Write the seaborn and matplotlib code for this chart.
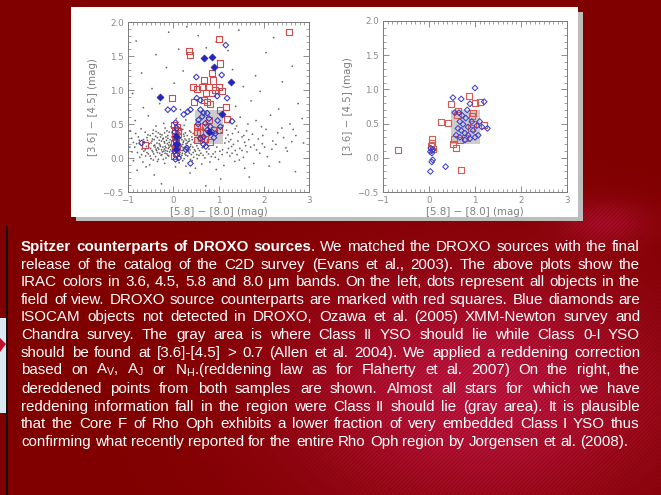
import numpy as np
import matplotlib
matplotlib.use("Agg")
import matplotlib.pyplot as plt
import seaborn as sns
import pandas as pd
from matplotlib.patches import Rectangle, Polygon
from matplotlib.ticker import MultipleLocator

sns.set_theme(style="white")
plt.rcParams['font.family'] = ['Liberation Sans', 'DejaVu Sans']
plt.rcParams['mathtext.fontset'] = 'custom'
plt.rcParams['mathtext.rm'] = 'Liberation Sans'
plt.rcParams['mathtext.it'] = 'Liberation Sans:italic'
plt.rcParams['mathtext.bf'] = 'Liberation Sans:bold'

# ---------------- data ----------------
x_ticks = [-1, 0, 1, 2, 3]
x_tick_labels = ['\u22121', '0', '1', '2', '3']
y_ticks = [-0.5, 0.0, 0.5, 1.0, 1.5, 2.0]
y_tick_labels = ['\u22120.5', '0.0', '0.5', '1.0', '1.5', '2.0']
x_label = '[5.8] \u2212 [8.0] (mag)'
y_label = '[3.6] \u2212 [4.5] (mag)'
class2_x = (0.48, 1.10)
class2_y = (0.20, 0.70)

field_dots = [
    (-0.71, 0.43), (-0.44, 0.41), (-0.18, 0.44), (0.21, 0.42), (0.36, 0.40), (0.66, 0.44), (1.18, 0.41),
    (1.37, 0.43), (1.62, 0.40), (2.05, 0.42), (-0.95, 0.40), (0.92, 0.45),
    (-0.83, 0.36), (-0.62, 0.38), (-0.51, 0.33), (-0.33, 0.37), (-0.25, 0.34), (-0.09, 0.38), (0.17, 0.35),
    (0.27, 0.37), (0.31, 0.33), (0.44, 0.36), (1.21, 0.34), (1.44, 0.38), (1.75, 0.35), (2.31, 0.37),
    (-0.12, 0.33), (0.09, 0.39),
    (-0.92, 0.29), (-0.77, 0.31), (-0.66, 0.27), (-0.58, 0.30), (-0.46, 0.28), (-0.39, 0.32), (-0.31, 0.26),
    (-0.22, 0.29), (-0.16, 0.31), (-0.07, 0.27), (0.12, 0.30), (0.19, 0.27), (0.24, 0.32), (0.35, 0.28),
    (0.41, 0.31), (1.16, 0.29), (1.27, 0.27), (1.52, 0.31), (1.88, 0.28), (2.44, 0.30), (-0.28, 0.31), (0.29, 0.26),
    (-0.88, 0.23), (-0.73, 0.20), (-0.64, 0.24), (-0.53, 0.21), (-0.47, 0.25), (-0.36, 0.22), (-0.29, 0.19),
    (-0.20, 0.24), (-0.13, 0.21), (-0.04, 0.25), (0.13, 0.22), (0.17, 0.19), (0.23, 0.25), (0.28, 0.21),
    (0.33, 0.24), (0.39, 0.20), (0.46, 0.23), (1.14, 0.22), (1.23, 0.24), (1.33, 0.20), (1.58, 0.23),
    (1.97, 0.21), (2.62, 0.24), (-0.41, 0.19), (-0.10, 0.19), (0.21, 0.20),
    (-0.85, 0.16), (-0.69, 0.13), (-0.59, 0.17), (-0.50, 0.14), (-0.43, 0.18), (-0.34, 0.15), (-0.26, 0.12),
    (-0.18, 0.17), (-0.11, 0.14), (-0.06, 0.18), (0.14, 0.13), (0.19, 0.17), (0.25, 0.14), (0.31, 0.18),
    (0.37, 0.12), (0.43, 0.16), (0.55, 0.14), (0.68, 0.17), (0.79, 0.13), (0.96, 0.16), (1.09, 0.12),
    (1.29, 0.17), (1.47, 0.14), (1.71, 0.16), (2.18, 0.13), (-0.23, 0.16), (0.27, 0.16), (-0.38, 0.13),
    (-0.79, 0.08), (-0.65, 0.10), (-0.55, 0.06), (-0.45, 0.09), (-0.37, 0.11), (-0.30, 0.07), (-0.21, 0.10),
    (-0.14, 0.06), (-0.08, 0.09), (0.15, 0.08), (0.21, 0.11), (0.26, 0.06), (0.34, 0.09), (0.40, 0.05),
    (0.49, 0.10), (0.61, 0.07), (0.74, 0.09), (0.88, 0.06), (1.03, 0.10), (1.19, 0.08), (1.41, 0.05),
    (1.63, 0.09), (1.91, 0.07), (2.52, 0.10), (-0.17, 0.11), (0.30, 0.10),
    (-0.74, 0.01), (-0.61, 0.03), (-0.49, -0.01), (-0.39, 0.02), (-0.27, 0.04), (-0.16, 0.00), (-0.10, 0.03),
    (0.16, 0.02), (0.24, -0.01), (0.32, 0.03), (0.45, 0.01), (0.57, 0.04), (0.70, 0.00), (0.84, 0.02),
    (1.00, -0.02), (1.25, 0.03), (1.55, 0.01), (2.08, 0.02), (-0.33, -0.02), (0.19, 0.04),
    (-0.67, -0.06), (-0.52, -0.10), (-0.35, -0.05), (-0.19, -0.08), (0.13, -0.07), (0.28, -0.12), (0.42, -0.04),
    (0.63, -0.09), (0.81, -0.06), (1.12, -0.11), (1.36, -0.05), (1.78, -0.08), (2.35, -0.06), (-0.88, -0.04),
    (0.05, -0.13),
    (-0.42, -0.25), (0.37, -0.22), (1.05, -0.31), (-0.26, -0.38), (1.68, -0.28), (2.70, -0.20), (0.72, -0.41),
    (-0.80, -0.18),
    (-0.84, 0.55), (-0.55, 0.62), (-0.21, 0.51), (0.07, 0.58), (0.28, 0.56), (1.25, 0.52), (1.48, 0.60),
    (1.83, 0.55), (2.15, 0.63), (2.58, 0.50), (2.85, 0.58), (-0.66, 0.74), (-0.30, 0.80), (0.16, 0.71),
    (1.38, 0.76), (1.72, 0.84), (2.33, 0.72), (2.76, 0.80), (-0.90, 0.95), (-0.47, 1.02), (0.02, 1.10),
    (1.55, 1.05), (1.92, 0.98), (2.41, 1.12), (-0.70, 1.25), (-0.15, 1.33), (0.22, 1.28), (1.31, 1.30),
    (1.82, 1.21), (2.63, 1.35), (-0.38, 1.52), (0.12, 1.60), (0.73, 1.62), (1.21, 1.58), (2.05, 1.55),
    (-0.82, 1.72), (0.55, 1.80), (1.45, 1.88), (2.22, 1.77), (0.30, 1.93), (0.95, 1.71), (-0.10, 1.85),
    (-0.57, 0.26), (-0.49, 0.22), (-0.42, 0.27), (-0.35, 0.30), (-0.31, 0.21), (-0.26, 0.25), (-0.23, 0.28),
    (-0.19, 0.22), (-0.15, 0.26), (-0.12, 0.29), (-0.09, 0.23), (-0.05, 0.20), (-0.03, 0.31), (0.12, 0.25),
    (0.16, 0.29), (0.22, 0.23), (0.26, 0.28), (0.31, 0.22), (0.36, 0.25), (0.42, 0.27),
    (-0.62, 0.12), (-0.54, 0.15), (-0.47, 0.11), (-0.40, 0.16), (-0.32, 0.13), (-0.28, 0.17), (-0.24, 0.09),
    (-0.20, 0.13), (-0.16, 0.15), (-0.13, 0.10), (-0.09, 0.16), (-0.06, 0.12), (-0.02, 0.15), (0.13, 0.16),
    (0.17, 0.11), (0.22, 0.15), (0.29, 0.12), (0.33, 0.15), (0.38, 0.17), (0.47, 0.12), (0.52, 0.18),
    (0.58, 0.11), (0.64, 0.15),
    (-0.70, 0.05), (-0.58, 0.08), (-0.51, 0.03), (-0.43, 0.06), (-0.35, 0.08), (-0.25, 0.05), (-0.18, 0.07),
    (-0.12, 0.04), (0.14, 0.05), (0.20, 0.07), (0.28, 0.04), (0.36, 0.07), (0.44, 0.08), (0.52, 0.05),
    (0.66, 0.04), (0.78, 0.06), (0.93, 0.09), (1.08, 0.05), (1.30, 0.07), (1.52, 0.11), (1.84, 0.12),
    (-0.56, 0.34), (-0.45, 0.36), (-0.38, 0.39), (-0.29, 0.35), (-0.19, 0.37), (-0.14, 0.40), (-0.02, 0.36),
    (0.14, 0.37), (0.23, 0.35), (0.39, 0.38), (0.48, 0.41), (1.06, 0.37), (1.31, 0.36), (1.56, 0.33),
    (1.98, 0.33), (2.20, 0.25),
    (-0.81, 0.21), (-0.75, 0.26), (-0.96, 0.16), (-0.91, 0.09), (1.43, 0.25), (1.67, 0.27), (1.79, 0.19),
    (2.02, 0.16), (2.27, 0.20), (2.49, 0.15), (2.71, 0.33), (2.88, 0.22), (1.22, 0.14), (1.37, 0.11),
    (1.60, 0.18),
    (-0.44, -0.03), (-0.22, -0.02), (0.21, -0.04), (0.38, -0.02), (0.53, -0.01), (0.93, 0.01), (1.46, -0.03),
    (-0.60, -0.13), (0.49, -0.15), (0.95, -0.17), (1.58, -0.15), (2.12, -0.12),
    (1.10, 0.48), (1.40, 0.47), (1.65, 0.50), (1.95, 0.46), (2.40, 0.44), (2.65, 0.42), (-0.38, 0.47),
    (-0.05, 0.46), (0.24, 0.48),
]

red_left = [
    (2.55, 1.85), (1.01, 1.75), (0.34, 1.58), (0.37, 1.52), (1.04, 1.39), (0.86, 1.25), (0.87, 1.14),
    (0.69, 1.15), (0.64, 1.05), (0.79, 1.05), (1.01, 1.05), (0.43, 1.05), (0.52, 1.02), (0.92, 1.00),
    (1.08, 0.98), (0.72, 0.96), (0.86, 0.95), (0.45, 0.83), (-0.03, 0.88), (0.68, 0.85), (0.82, 0.80),
    (0.75, 0.82), (1.16, 0.75), (1.04, 0.70), (1.18, 0.58), (0.52, 0.46), (0.71, 0.46), (0.52, 0.39),
    (0.60, 0.38), (0.90, 0.41), (1.01, 0.41), (0.79, 0.56), (0.52, 0.26), (0.71, 0.28), (0.82, 0.24),
    (0.62, 0.30), (0.02, 0.48), (0.08, 0.45), (0.04, 0.41), (0.10, 0.36), (0.03, 0.32), (0.07, 0.27),
    (0.02, 0.22), (0.09, 0.17), (0.04, 0.12), (0.07, 0.07), (0.02, 0.03), (0.11, 0.40), (0.05, 0.15),
    (-0.62, 0.19),
]

blue_left = [
    (1.16, 1.66), (1.07, 1.22), (0.51, 1.19), (0.01, 0.72), (0.23, 0.64), (0.38, 0.71), (0.52, 0.88),
    (0.60, 0.85), (1.19, 0.88), (0.97, 0.91), (1.30, 0.54), (0.32, 0.68), (0.60, 0.71), (0.67, 0.66),
    (0.75, 0.66), (0.64, 0.61), (0.56, 0.56), (0.79, 0.58), (0.71, 0.51), (0.82, 0.46), (0.93, 0.36),
    (0.75, 0.41), (0.67, 0.31), (0.90, 0.30), (1.04, 0.46), (0.60, 0.29), (0.86, 0.38), (0.55, 0.50),
    (0.98, 0.55), (0.05, 0.52), (0.08, 0.44), (0.03, 0.38), (0.09, 0.30), (0.05, 0.25), (0.10, 0.20),
    (0.03, 0.10), (0.08, 0.05), (0.05, -0.02), (0.12, 0.00), (0.38, -0.08), (0.67, 0.20), (0.30, 0.15),
    (-0.70, 0.22), (0.28, 0.12), (0.72, 0.17), (-0.12, 0.71),
]

blue_left_filled = [
    (0.67, 1.47), (0.86, 1.49), (0.91, 1.34), (1.28, 1.12), (-0.30, 0.89), (1.07, 0.64), (0.06, 0.33),
    (0.07, 0.21), (0.05, 0.13), (0.80, 0.38),
]

red_right = [
    (0.87, 0.90), (1.00, 0.80), (1.10, 0.81), (0.48, 0.78), (0.63, 0.68), (0.96, 0.66), (0.26, 0.52),
    (0.41, 0.51), (0.93, 0.61), (0.96, 0.50), (0.91, 0.43), (1.19, 0.48), (0.55, 0.28), (0.67, 0.26),
    (0.52, 0.20), (0.59, 0.15), (0.07, 0.28), (0.07, 0.22), (0.05, 0.17), (0.09, 0.13), (-0.67, 0.12),
    (0.70, -0.18), (0.62, 0.63), (0.78, 0.29),
]

blue_right = [
    (1.00, 1.02), (0.52, 0.88), (0.70, 0.86), (0.89, 0.79), (1.20, 0.82), (0.56, 0.66), (0.65, 0.66),
    (0.67, 0.53), (0.74, 0.49), (0.80, 0.58), (0.85, 0.45), (0.93, 0.53), (0.63, 0.43), (0.70, 0.40),
    (0.78, 0.36), (0.85, 0.33), (0.96, 0.40), (1.04, 0.47), (1.10, 0.53), (1.15, 0.45), (1.27, 0.43),
    (0.59, 0.33), (0.67, 0.30), (0.78, 0.26), (0.89, 0.28), (1.00, 0.30), (1.07, 0.33), (0.04, 0.14),
    (0.07, 0.11), (0.03, 0.09), (0.06, 0.07), (0.09, 0.12), (0.08, -0.03), (0.06, -0.06), (0.03, -0.20),
    (0.36, -0.13), (0.72, 0.62), (0.83, 0.70),
]

caption_lines = [
    "*Spitzer *counterparts *of *DROXO *sources|. We matched the DROXO sources with the final",
    "release of the catalog of the C2D survey (Evans et al., 2003). The above plots show the",
    "IRAC colors in 3.6, 4.5, 5.8 and 8.0 \u03bcm bands. On the left, dots represent all objects in the",
    "field of view. DROXO source counterparts are marked with red squares. Blue diamonds are",
    "ISOCAM objects not detected  in DROXO, Ozawa et al. (2005) XMM-Newton survey and",
    "Chandra survey. The gray area is where Class II YSO should lie while Class 0-I YSO",
    "should be found at [3.6]-[4.5] > 0.7 (Allen et al. 2004). We applied a reddening correction",
    r"based on A$_\mathrm{V}$, A$_\mathrm{J}$ or N$_\mathrm{H}$.(reddening law as for Flaherty et al. 2007) On the right, the",
    "dereddened points from both samples are shown. Almost all stars for which we have",
    "reddening information fall in the region were Class II should lie (gray area).  It is plausible",
    "that the Core F of Rho Oph exhibits a lower fraction of very embedded Class I YSO thus",
    "confirming what recently reported for the entire Rho Oph region by Jorgensen et al. (2008).",
]

# ---------------- figure ----------------
W, H = 661, 495
fig = plt.figure(figsize=(W / 100, H / 100), dpi=100)

# background (decoration)
yy, xx = np.mgrid[0:H, 0:W].astype(float)
base = np.array([128, 0, 0], float)
light = np.array([196, 24, 74], float)
blob = np.exp(-((xx - 480) / 185) ** 2 - ((yy - 390) / 120) ** 2)
blob2 = 0.5 * np.exp(-((xx - 605) / 45) ** 2 - ((yy - 222) / 22) ** 2)
stripes = 0.5 + 0.5 * np.sin(2 * np.pi * (xx + yy) / 4.0)
mix = np.clip(blob + blob2, 0, 1) * (0.6 + 0.4 * stripes)
bg = base[None, None, :] + (light - base)[None, None, :] * mix[:, :, None]
bg = np.clip(bg / 255.0, 0, 1)

axbg = fig.add_axes([0, 0, 1, 1])
axbg.imshow(bg, extent=(0, W, H, 0), aspect='auto', interpolation='nearest', zorder=0)
axbg.set_xlim(0, W)
axbg.set_ylim(H, 0)
axbg.axis('off')

# slide frame decorations
axbg.add_patch(Rectangle((0, 318), 6, 95, facecolor='#dbe8f4', edgecolor='none', zorder=1))
axbg.add_patch(Polygon([(0, 338), (6, 344), (0, 352)], closed=True, facecolor='#c0102a', edgecolor='none', zorder=2))
axbg.add_patch(Rectangle((6, 226), 1.6, H - 226, facecolor='#111111', edgecolor='none', zorder=2))
# white panel with shadow
axbg.add_patch(Rectangle((76, 12), 507, 209, facecolor='#bdbdbd', edgecolor='none', zorder=3))
axbg.add_patch(Rectangle((71, 7), 507, 210, facecolor='white', edgecolor='none', zorder=4))

# caption text (justified)
renderer = fig.canvas.get_renderer()


def make_piece(txt, bold, fs):
    t = axbg.text(0, 0, txt, fontsize=fs, color='white', fontweight='bold' if bold else 'normal',
                  family=['Liberation Sans', 'DejaVu Sans'], va='baseline', ha='left', zorder=10)
    return t


def parse_word(word):
    pieces = []
    for p in word.split('|'):
        if p.startswith('*'):
            pieces.append((p[1:], True))
        else:
            pieces.append((p, False))
    return pieces


def width_of(t):
    return t.get_window_extent(renderer=renderer).width


def space_width(fs):
    a = make_piece('x x', False, fs)
    b = make_piece('xx', False, fs)
    sp = width_of(a) - width_of(b)
    a.remove()
    b.remove()
    return sp


def natural_width(line, fs):
    words = [w for w in line.split(' ') if w]
    total = 0
    for w in words:
        for txt, b in parse_word(w):
            t = make_piece(txt, b, fs)
            total += width_of(t)
            t.remove()
    return total + space_width(fs) * (len(words) - 1)


left_x, right_x = 21.0, 640.0
nat = natural_width(caption_lines[-1], 10.0)
fs = 10.0 * 612.0 / nat
sp_w = space_width(fs)

baseline0 = 251.0
step = 17.6
for i, line in enumerate(caption_lines):
    yb = float(round(baseline0 + i * step + (1.5 if i >= 8 else 0.0)))
    words = [w for w in line.split(' ') if w]
    word_objs = []
    widths = []
    for w in words:
        objs = []
        wsum = 0
        for txt, b in parse_word(w):
            t = make_piece(txt, b, fs)
            objs.append(t)
            wsum += width_of(t)
        word_objs.append(objs)
        widths.append(wsum)
    if i < len(caption_lines) - 1 and len(words) > 1:
        gap = (right_x - left_x - sum(widths)) / (len(words) - 1)
    else:
        gap = sp_w
    cx = left_x
    for objs, wsum in zip(word_objs, widths):
        px = cx
        for t in objs:
            t.set_position((round(px), yb))
            px += width_of(t)
        cx += wsum + gap

# ---------------- scatter panels ----------------
axis_gray = '#7a7a7a'


def style_ax(ax):
    ax.set_xlim(-1, 3)
    ax.set_ylim(-0.5, 2.0)
    ax.set_facecolor('white')
    ax.set_xticks(x_ticks)
    ax.set_xticklabels(x_tick_labels)
    ax.set_yticks(y_ticks)
    ax.set_yticklabels(y_tick_labels)
    ax.xaxis.set_minor_locator(MultipleLocator(0.1))
    ax.yaxis.set_minor_locator(MultipleLocator(0.1))
    ax.tick_params(which='both', direction='in', top=True, right=True, bottom=True, left=True,
                   color=axis_gray, labelcolor='#8a8a8a', labelsize=6.3, pad=3)
    ax.tick_params(which='major', length=4.5, width=0.6)
    ax.tick_params(which='minor', length=2.2, width=0.5)
    for lab in ax.get_xticklabels() + ax.get_yticklabels():
        lab.set_family('DejaVu Sans')
    for sp in ax.spines.values():
        sp.set_color(axis_gray)
        sp.set_linewidth(0.7)
        sp.set_visible(True)
    ax.add_patch(Rectangle((class2_x[0], class2_y[0]), class2_x[1] - class2_x[0],
                           class2_y[1] - class2_y[0], facecolor='#cdcdcd', edgecolor='none', zorder=0))


def label_ax(ax):
    ax.set_xlabel(x_label, fontsize=7.4, color='#7f7f7f', labelpad=1.5, family='DejaVu Sans')
    ax.set_ylabel(y_label, fontsize=7.4, color='#7f7f7f', labelpad=3, family='DejaVu Sans')


def df(pts):
    return pd.DataFrame(pts, columns=['c58_80', 'c36_45'])


ax1 = fig.add_axes([128 / W, 1 - 192 / H, 181 / W, 170 / H])
style_ax(ax1)
sns.scatterplot(data=df(field_dots), x='c58_80', y='c36_45', ax=ax1, s=1.6, color='#404040',
                edgecolor='none', alpha=0.8, zorder=2, legend=False)
sns.scatterplot(data=df(red_left), x='c58_80', y='c36_45', ax=ax1, marker='s', s=19, color='#d24a4a',
                facecolor='none', edgecolor='#d24a4a', linewidth=0.8, zorder=3, legend=False)
sns.scatterplot(data=df(blue_left), x='c58_80', y='c36_45', ax=ax1, marker='D', s=8.5, color='#3535c4',
                facecolor='none', edgecolor='#3535c4', linewidth=0.75, zorder=4, legend=False)
sns.scatterplot(data=df(blue_left_filled), x='c58_80', y='c36_45', ax=ax1, marker='D', s=12,
                color='#2525b8', edgecolor='#2525b8', linewidth=0.6, zorder=5, legend=False)
label_ax(ax1)

ax2 = fig.add_axes([383 / W, 1 - 192 / H, 184 / W, 171 / H])
style_ax(ax2)
sns.scatterplot(data=df(red_right), x='c58_80', y='c36_45', ax=ax2, marker='s', s=19, color='#d85a50',
                facecolor='none', edgecolor='#d85a50', linewidth=0.8, zorder=3, legend=False)
sns.scatterplot(data=df(blue_right), x='c58_80', y='c36_45', ax=ax2, marker='D', s=8.5, color='#4040cc',
                facecolor='none', edgecolor='#4040cc', linewidth=0.75, zorder=4, legend=False)
label_ax(ax2)

fig.savefig('out.png', dpi=100)
